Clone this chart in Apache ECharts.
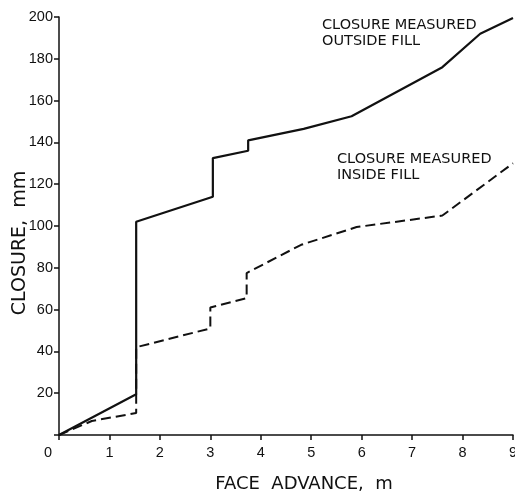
<!DOCTYPE html>
<html>
<head>
<meta charset="utf-8">
<script src="https://cdn.jsdelivr.net/npm/echarts@6/dist/echarts.min.js"></script>
<style>
html,body{margin:0;padding:0;background:#fff;}
#c{width:515px;height:496px;}
</style>
</head>
<body>
<div id="c"></div>
<script>
// Face advance (m) vs closure (mm)
const outsideX = [0, 1.53, 1.53, 3.05, 3.05, 3.75, 3.75, 4.85, 5.8, 7.6, 8.35, 9.0];
const outsideY = [0, 19.5, 102, 114, 132.5, 136, 141, 146.5, 152.5, 176, 192, 199.5];
const insideX = [0, 0.65, 1.53, 1.53, 3.0, 3.0, 3.72, 3.72, 4.8, 5.9, 7.6, 9.0];
const insideY = [0, 6.7, 10.5, 42, 51, 61, 65.5, 77.5, 91, 99.5, 105, 130];
const xTicks = [0, 1, 2, 3, 4, 5, 6, 7, 8, 9];
const yTicks = [0, 20, 40, 60, 80, 100, 120, 140, 160, 180, 200];
const labelOutside = 'CLOSURE MEASURED\nOUTSIDE FILL';
const labelInside = 'CLOSURE MEASURED\nINSIDE FILL';

const FONT = 'DejaVu Sans';
const TFONT = 'Liberation Sans';
const chart = echarts.init(document.getElementById('c'), null, {renderer: 'canvas'});
const pair = (xs, ys) => xs.map((x, i) => [x, ys[i]]);

chart.setOption({
  animation: false,
  backgroundColor: '#fff',
  grid: {left: 59, right: 2, top: 17, bottom: 61, containLabel: false, outerBoundsMode: 'none'},
  xAxis: {
    type: 'value', min: xTicks[0], max: xTicks[xTicks.length - 1], interval: 1,
    name: 'FACE  ADVANCE,  m', nameLocation: 'middle', nameGap: 40, nameMoveOverlap: false,
    nameTextStyle: {fontFamily: FONT, fontSize: 18, color: '#111', padding: [0, 0, 0, 36]},
    axisLine: {lineStyle: {color: '#111', width: 1.5}},
    axisTick: {length: 5, lineStyle: {color: '#111', width: 1.5}},
    axisLabel: {
      fontFamily: TFONT, fontSize: 14.5, color: '#111', margin: 10,
      formatter: v => v === 0 ? '{z|0}' : String(v),
      rich: {z: {fontFamily: TFONT, fontSize: 14.5, color: '#111', padding: [0, 22, 0, 0]}}
    },
    splitLine: {show: false}
  },
  yAxis: {
    type: 'value', min: yTicks[0], max: yTicks[yTicks.length - 1], interval: 20,
    name: 'CLOSURE,  mm', nameLocation: 'middle', nameGap: 29, nameMoveOverlap: false,
    nameTextStyle: {fontFamily: FONT, fontSize: 19, color: '#111', padding: [0, 34, 0, 0]},
    axisLine: {show: true, lineStyle: {color: '#111', width: 1.5}},
    axisTick: {show: true, length: 5, lineStyle: {color: '#111', width: 1.5}},
    axisLabel: {
      fontFamily: TFONT, fontSize: 14.5, color: '#111', margin: 6,
      formatter: v => v === 0 ? '' : String(v)
    },
    splitLine: {show: false}
  },
  series: [
    {
      type: 'line', data: pair(insideX, insideY), symbol: 'none',
      lineStyle: {color: '#111', width: 2, type: [10, 5]}, z: 2
    },
    {
      type: 'line', data: pair(outsideX, outsideY), symbol: 'none',
      lineStyle: {color: '#111', width: 2.2}, z: 3
    }
  ],
  graphic: [
    {type: 'text', left: 322, top: 17, style: {text: labelOutside, font: '14.5px "' + FONT + '"', fill: '#111', lineHeight: 16}},
    {type: 'text', left: 337, top: 151, style: {text: labelInside, font: '14.5px "' + FONT + '"', fill: '#111', lineHeight: 16}}
  ]
});
</script>
</body>
</html>
